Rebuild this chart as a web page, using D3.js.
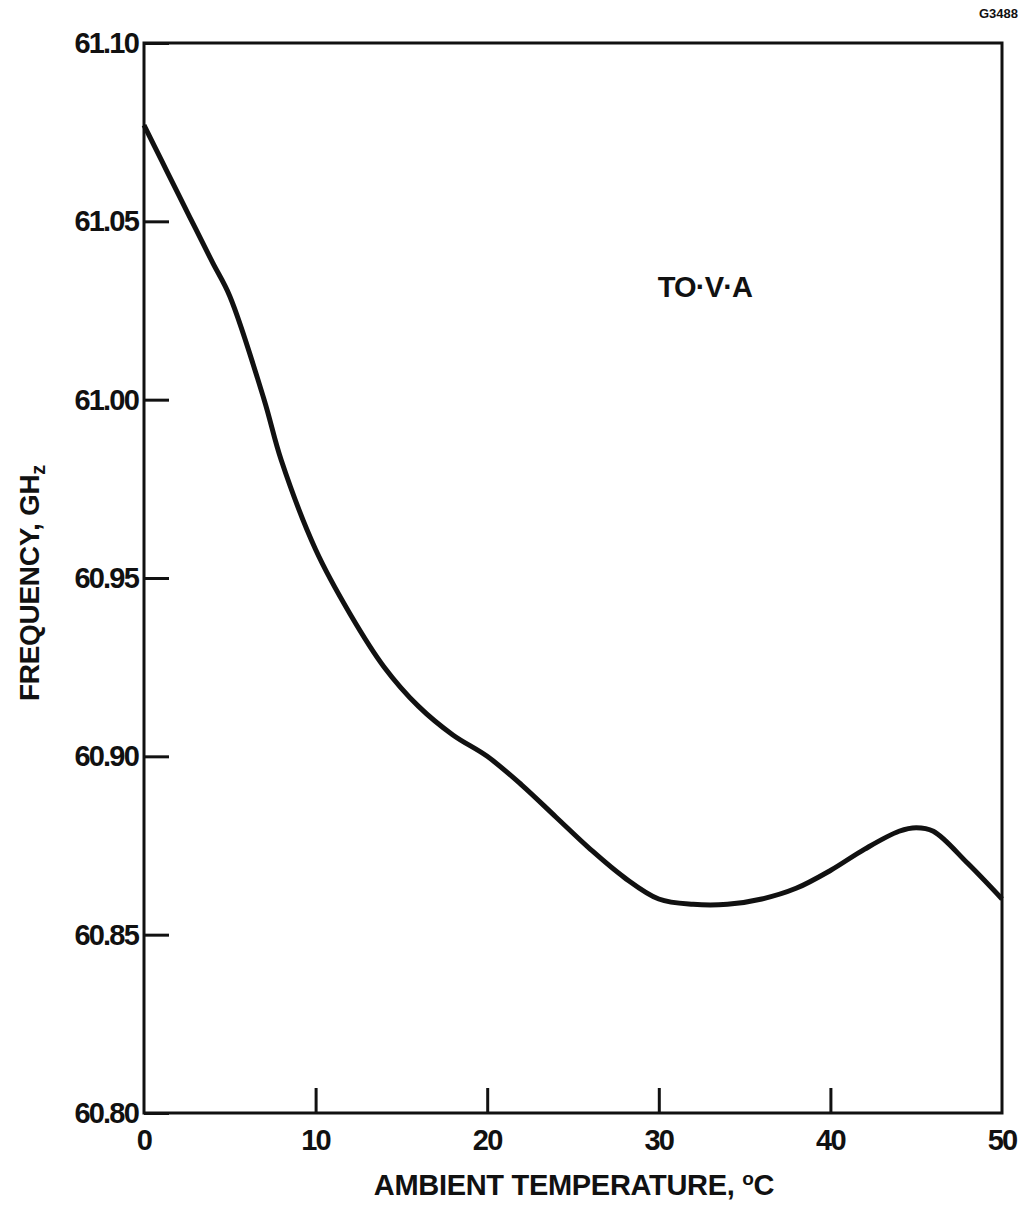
<!DOCTYPE html>
<html>
<head>
<meta charset="utf-8">
<script src="https://cdn.jsdelivr.net/npm/d3@7"></script>
<style>
  html, body { margin: 0; padding: 0; background: #fff; }
  svg { display: block; }
  text { font-family: "Liberation Sans", Arial, Helvetica, sans-serif; font-weight: bold; fill: #111; }
</style>
</head>
<body>
<script>
// Ambient temperature (°C) and measured oscillator frequency (GHz)
const temperature = [0, 1, 2, 3, 4, 5, 7, 8, 10, 12, 14, 16, 18, 20, 22, 24, 26, 28, 30, 32, 34, 36, 38, 40, 42, 44, 45, 46, 48, 50];
const frequency   = [61.077, 61.0673, 61.0576, 61.048, 61.0384, 61.029, 61.000, 60.983, 60.958, 60.940, 60.925, 60.914, 60.906, 60.900,
                     60.892, 60.883, 60.874, 60.866, 60.860, 60.8585, 60.8585, 60.860, 60.863, 60.868, 60.874, 60.879, 60.880, 60.879, 60.870, 60.860];

const xTicks = [0, 10, 20, 30, 40, 50];
const yTicks = [60.80, 60.85, 60.90, 60.95, 61.00, 61.05, 61.10];

const W = 1023, H = 1206;
const plotL = 144, plotR = 1002, plotT = 43, plotB = 1113;

const svg = d3.select("body").append("svg").attr("width", W).attr("height", H);

const x = d3.scaleLinear().domain([0, 50]).range([plotL, plotR]);
const y = d3.scaleLinear().domain([60.80, 61.10]).range([plotB, plotT]);

// plot frame
svg.append("rect")
  .attr("x", plotL).attr("y", plotT)
  .attr("width", plotR - plotL).attr("height", plotB - plotT)
  .attr("fill", "none").attr("stroke", "#111").attr("stroke-width", 3);

// left axis: ticks point into the plot
const yAxis = svg.append("g").attr("transform", `translate(${plotL},0)`)
  .call(d3.axisRight(y).tickValues(yTicks).tickSize(25).tickFormat(""));
yAxis.select(".domain").remove();
yAxis.selectAll("line").attr("stroke", "#111").attr("stroke-width", 3);

svg.append("g").selectAll("text").data(yTicks).join("text")
  .attr("x", plotL - 6).attr("y", d => y(d) + 10)
  .attr("text-anchor", "end")
  .attr("font-size", 29).attr("letter-spacing", -1.8)
  .text(d => d.toFixed(2));

// bottom axis: ticks point up into the plot
const xAxis = svg.append("g").attr("transform", `translate(0,${plotB})`)
  .call(d3.axisTop(x).tickValues(xTicks.filter(d => d > 0 && d < 50)).tickSize(25).tickFormat(""));
xAxis.select(".domain").remove();
xAxis.selectAll("line").attr("stroke", "#111").attr("stroke-width", 3);

svg.append("g").selectAll("text").data(xTicks).join("text")
  .attr("x", d => x(d)).attr("y", plotB + 37)
  .attr("text-anchor", "middle")
  .attr("font-size", 29).attr("letter-spacing", -1.8)
  .text(d => d);

// frequency curve
const pts = temperature.map((t, i) => [t, frequency[i]]);
svg.append("path")
  .datum(pts)
  .attr("fill", "none").attr("stroke", "#111").attr("stroke-width", 5)
  .attr("stroke-linejoin", "round")
  .attr("d", d3.line().x(d => x(d[0])).y(d => y(d[1])).curve(d3.curveCatmullRom.alpha(0.5)));

// axis titles
const xt = svg.append("text")
  .attr("x", 574).attr("y", 1195)
  .attr("text-anchor", "middle").attr("font-size", 29).attr("letter-spacing", -0.3);
xt.append("tspan").text("AMBIENT TEMPERATURE, ");
xt.append("tspan").attr("font-size", 19).attr("dy", -10).text("o");
xt.append("tspan").attr("dy", 10).text("C");

const yt = svg.append("text")
  .attr("transform", "translate(39,583) rotate(-90)")
  .attr("text-anchor", "middle").attr("font-size", 28).attr("letter-spacing", -0.3);
yt.append("tspan").text("FREQUENCY, GH");
yt.append("tspan").attr("font-size", 20).attr("dy", 6).text("z");

// curve label and figure number
svg.append("text").attr("x", 705).attr("y", 297)
  .attr("text-anchor", "middle").attr("font-size", 29).attr("letter-spacing", -0.8)
  .text("TO·V·A");

svg.append("text").attr("x", 1018).attr("y", 18)
  .attr("text-anchor", "end").attr("font-size", 13)
  .text("G3488");
</script>
</body>
</html>
